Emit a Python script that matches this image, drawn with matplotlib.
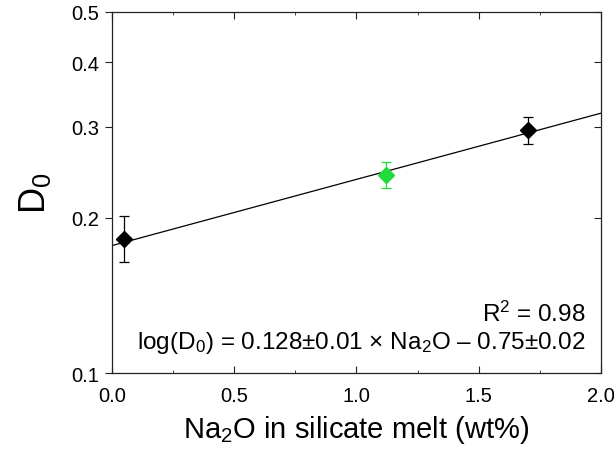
import numpy as np
import matplotlib.pyplot as plt
from matplotlib.ticker import FixedLocator, NullLocator, FixedFormatter

plt.rcParams['font.family'] = ['Liberation Sans', 'DejaVu Sans']
plt.rcParams['mathtext.fontset'] = 'custom'
plt.rcParams['mathtext.rm'] = 'Liberation Sans'
plt.rcParams['mathtext.it'] = 'Liberation Sans:italic'

# measured partition coefficients
na2o_black = [0.05, 1.70]
d0_black = [0.182, 0.295]
d0_black_lo = [0.164, 0.277]
d0_black_hi = [0.201, 0.313]

na2o_green = [1.12]
d0_green = [0.242]
d0_green_lo = [0.228]
d0_green_hi = [0.256]

# fit line end points
fit_x = [0.0, 2.0]
fit_y = [0.1765, 0.3185]

xticks = [0.0, 0.5, 1.0, 1.5, 2.0]
yticks = [0.1, 0.2, 0.3, 0.4, 0.5]
ytick_labels = ['0.1', '0.2', '0.3', '0.4', '0.5']

green = '#1edc3c'

fig = plt.figure(figsize=(6.14, 4.56), dpi=100)
ax = fig.add_axes([0.1824, 0.1798, 0.7964, 0.7917])

ax.plot(fit_x, fit_y, color='black', lw=0.9, zorder=1)

err_b = [np.array(d0_black) - np.array(d0_black_lo), np.array(d0_black_hi) - np.array(d0_black)]
ax.errorbar(na2o_black, d0_black, yerr=err_b, fmt='D', color='black', ms=8.5,
            ecolor='black', elinewidth=0.9, capsize=3.5, capthick=0.9, zorder=3)
err_g = [np.array(d0_green) - np.array(d0_green_lo), np.array(d0_green_hi) - np.array(d0_green)]
ax.errorbar(na2o_green, d0_green, yerr=err_g, fmt='D', color=green, ms=8.5,
            ecolor=green, elinewidth=0.9, capsize=3.5, capthick=0.9, zorder=3)

ax.set_yscale('log')
ax.set_xlim(0, 2.0)
ax.set_ylim(0.1, 0.5)

ax.xaxis.set_major_locator(FixedLocator(xticks))
ax.xaxis.set_minor_locator(FixedLocator([0.25, 0.75, 1.25, 1.75]))
ax.yaxis.set_major_locator(FixedLocator(yticks))
ax.yaxis.set_major_formatter(FixedFormatter(ytick_labels))
ax.yaxis.set_minor_locator(NullLocator())

ax.tick_params(axis='x', which='both', direction='in', top=True, labelsize=14.5, pad=9, color='#222222')
ax.tick_params(axis='x', which='major', length=5)
ax.tick_params(axis='x', which='minor', length=2.5)
ax.tick_params(axis='y', which='major', direction='out', length=5, labelsize=14.5, pad=4, color='#222222')
for s in ax.spines.values():
    s.set_linewidth(0.9)
    s.set_color('#222222')

# right-side ticks pointing inward
ax2 = ax.twinx()
ax2.set_yscale('log')
ax2.set_ylim(0.1, 0.5)
ax2.yaxis.set_major_locator(FixedLocator(yticks))
ax2.yaxis.set_minor_locator(NullLocator())
ax2.tick_params(axis='y', direction='in', length=5, labelright=False, color='#222222')
for s in ax2.spines.values():
    s.set_visible(False)

ax.set_xlabel('Na$_2$O in silicate melt (wt%)', fontsize=21, labelpad=6)
ax.set_ylabel('D$_0$', fontsize=26)
ax.yaxis.set_label_coords(-0.12, 0.5)

ax.text(0.969, 0.144, 'R$^2$ = 0.98', transform=ax.transAxes, ha='right',
        va='baseline', fontsize=17.5)
ax.text(0.969, 0.069, 'log(D$_0$) = 0.128\u00b10.01 \u00d7 Na$_2$O \u2013 0.75\u00b10.02',
        transform=ax.transAxes, ha='right', va='baseline', fontsize=17.5)

fig.savefig('out.png', dpi=100)
